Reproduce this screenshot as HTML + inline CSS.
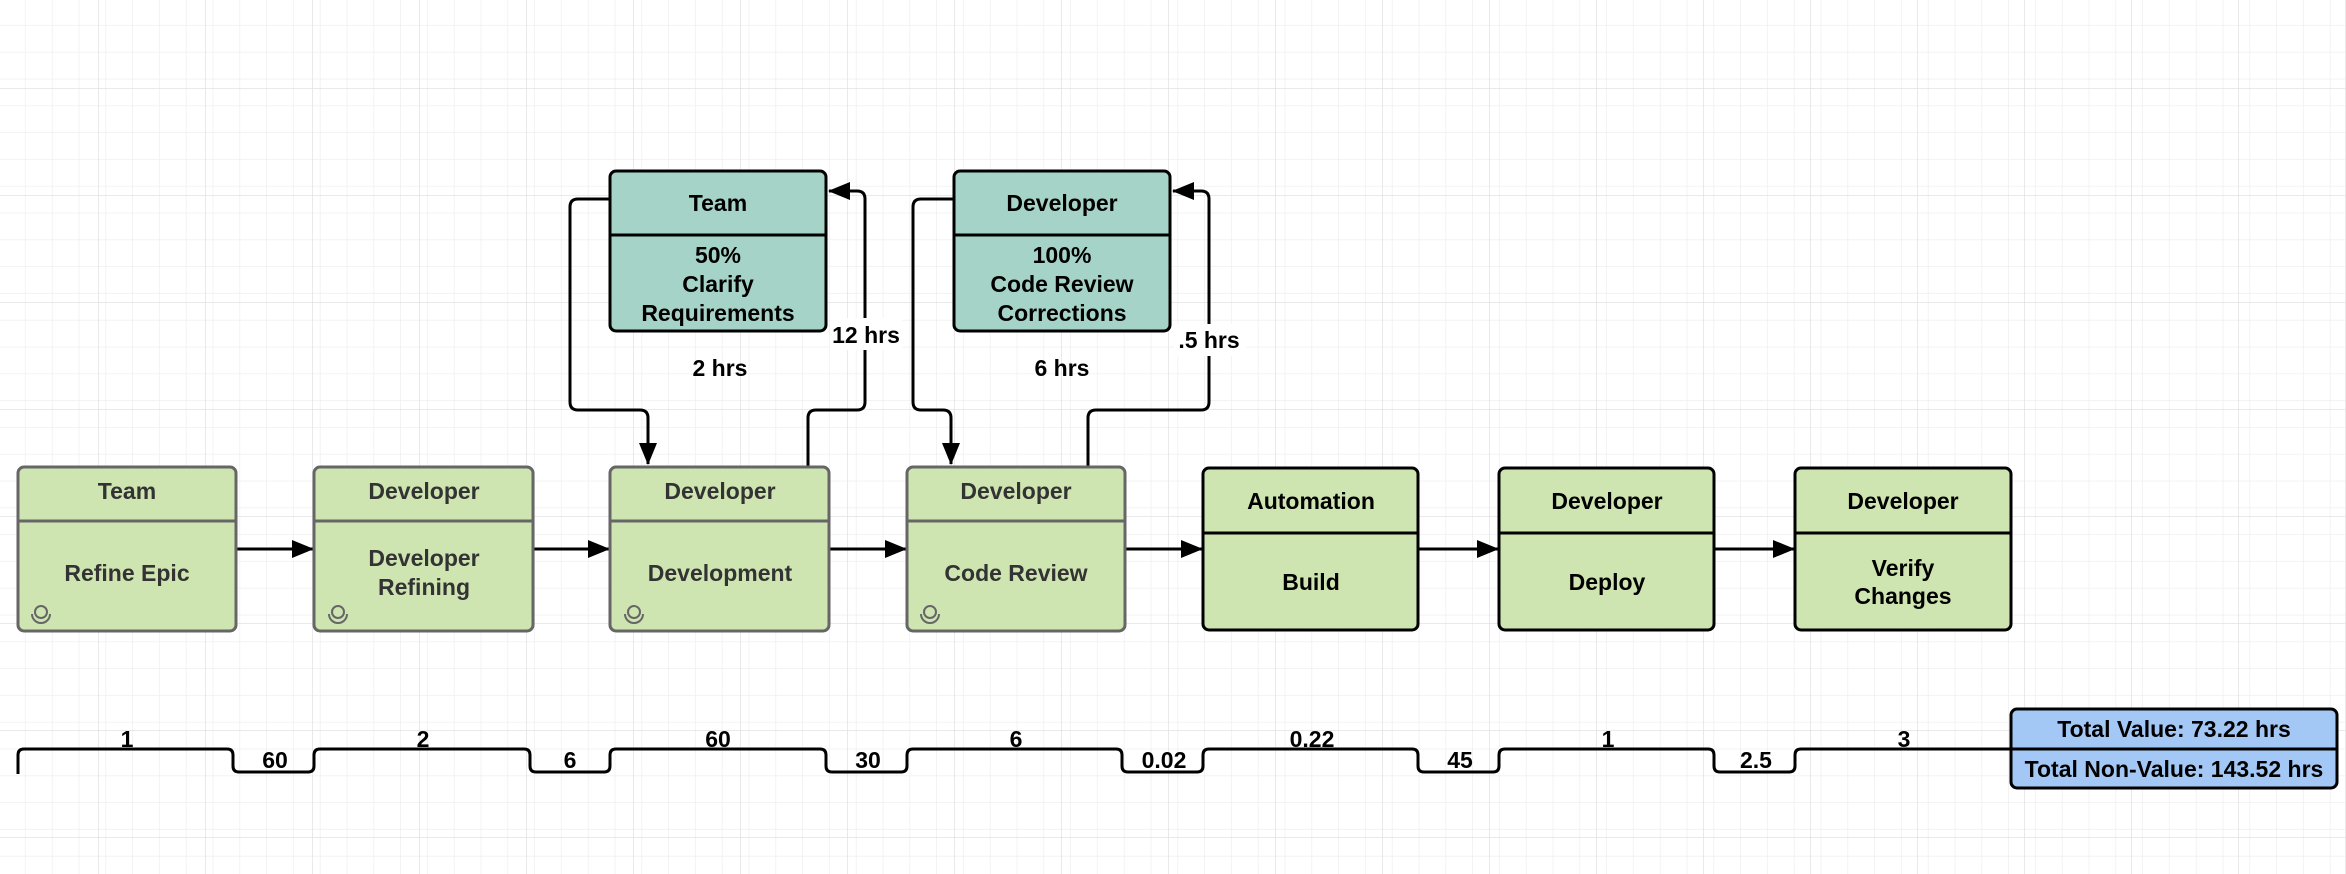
<!DOCTYPE html>
<html><head><meta charset="utf-8"><style>
html,body{margin:0;padding:0;background:#fff}
svg{display:block}
text{font-family:"Liberation Sans",sans-serif;font-weight:bold;text-anchor:middle}
</style></head><body>
<svg width="2346" height="874" viewBox="0 0 2346 874" xmlns="http://www.w3.org/2000/svg">
<defs>
<pattern id="g" width="26.8" height="26.8" patternUnits="userSpaceOnUse" x="-1" y="-1">
<path d="M26.8 0V26.8M0 26.8H26.8" stroke="#efefef" stroke-width="1.5" fill="none"/>
</pattern>
<pattern id="G" width="107" height="107" patternUnits="userSpaceOnUse" x="-8" y="-18">
<path d="M107 0V107M0 107H107" stroke="#e2e2e2" stroke-width="1.5" fill="none"/>
</pattern>
<marker id="a" markerWidth="22" markerHeight="18" refX="21" refY="9" orient="auto" markerUnits="userSpaceOnUse" viewBox="0 0 22 18">
<path d="M0,0 L22,9 L0,18z" fill="#000"/>
</marker>
<g id="ic"><path d="M-9,-2 a9,9 0 0 0 18,0" fill="none" stroke="#666" stroke-width="2"/><circle cx="0" cy="-4" r="6" fill="none" stroke="#666" stroke-width="2"/></g>
</defs>
<rect width="2346" height="874" fill="url(#g)"/>
<rect width="2346" height="874" fill="url(#G)"/>

<g fill="none" stroke="#000" stroke-width="3">
<path d="M610,199 H578 q-8,0 -8,8 V402 q0,8 8,8 H640 q8,0 8,8 V464" marker-end="url(#a)"/>
<path d="M808,467 V418 q0,-8 8,-8 H857 q8,0 8,-8 V199 q0,-8 -8,-8 H829" marker-end="url(#a)"/>
<path d="M954,199 H921 q-8,0 -8,8 V402 q0,8 8,8 H943 q8,0 8,8 V464" marker-end="url(#a)"/>
<path d="M1088,467 V418 q0,-8 8,-8 H1201 q8,0 8,-8 V199 q0,-8 -8,-8 H1173" marker-end="url(#a)"/>
</g>
<g stroke="#000" stroke-width="3" marker-end="url(#a)">
<line x1="237" y1="549" x2="313" y2="549"/>
<line x1="534" y1="549" x2="609" y2="549"/>
<line x1="830" y1="549" x2="906" y2="549"/>
<line x1="1126" y1="549" x2="1202" y2="549"/>
<line x1="1419" y1="549" x2="1498" y2="549"/>
<line x1="1715" y1="549" x2="1794" y2="549"/>
</g>

<g stroke="#000" stroke-width="3">
<rect x="610" y="171" width="216" height="160" rx="6" fill="#a5d3c8"/><line x1="610" y1="235" x2="826" y2="235"/>
<rect x="954" y="171" width="216" height="160" rx="6" fill="#a5d3c8"/><line x1="954" y1="235" x2="1170" y2="235"/>
</g>
<g font-size="23" fill="#000">
<text x="718" y="211">Team</text>
<text x="718" y="263">50%</text><text x="718" y="292">Clarify</text><text x="718" y="321">Requirements</text>
<text x="1062" y="211">Developer</text>
<text x="1062" y="263">100%</text><text x="1062" y="292">Code Review</text><text x="1062" y="321">Corrections</text>
<text x="720" y="376">2 hrs</text>
<text x="1062" y="376">6 hrs</text>
</g>
<rect x="830" y="318" width="72" height="32" fill="#fff"/>
<rect x="1174" y="324" width="72" height="32" fill="#fff"/>
<g font-size="23"><text x="866" y="343">12 hrs</text><text x="1209" y="348">.5 hrs</text></g>

<g stroke="#666" stroke-width="3" fill="#cfe5b1">
<rect x="18" y="467" width="218" height="164" rx="6"/><line x1="18" y1="521" x2="236" y2="521"/>
<rect x="314" y="467" width="219" height="164" rx="6"/><line x1="314" y1="521" x2="533" y2="521"/>
<rect x="610" y="467" width="219" height="164" rx="6"/><line x1="610" y1="521" x2="829" y2="521"/>
<rect x="907" y="467" width="218" height="164" rx="6"/><line x1="907" y1="521" x2="1125" y2="521"/>
</g>
<use href="#ic" x="41" y="616"/><use href="#ic" x="338" y="616"/><use href="#ic" x="634" y="616"/><use href="#ic" x="930" y="616"/>
<g font-size="23" fill="#333">
<text x="127" y="499">Team</text><text x="127" y="581">Refine Epic</text>
<text x="424" y="499">Developer</text><text x="424" y="566">Developer</text><text x="424" y="595">Refining</text>
<text x="720" y="499">Developer</text><text x="720" y="581">Development</text>
<text x="1016" y="499">Developer</text><text x="1016" y="581">Code Review</text>
</g>
<g stroke="#000" stroke-width="3" fill="#cfe5b1">
<rect x="1203" y="468" width="215" height="162" rx="6"/><line x1="1203" y1="533" x2="1418" y2="533"/>
<rect x="1499" y="468" width="215" height="162" rx="6"/><line x1="1499" y1="533" x2="1714" y2="533"/>
<rect x="1795" y="468" width="216" height="162" rx="6"/><line x1="1795" y1="533" x2="2011" y2="533"/>
</g>
<g font-size="23" fill="#000">
<text x="1311" y="509">Automation</text><text x="1311" y="590">Build</text>
<text x="1607" y="509">Developer</text><text x="1607" y="590">Deploy</text>
<text x="1903" y="509">Developer</text><text x="1903" y="576">Verify</text><text x="1903" y="604">Changes</text>
</g>

<path fill="none" stroke="#000" stroke-width="3" d="M18,774 V755 q0,-6 6,-6 H227 q6,0 6,6 V766 q0,6 6,6 H308 q6,0 6,-6 V755 q0,-6 6,-6 H524 q6,0 6,6 V766 q0,6 6,6 H604 q6,0 6,-6 V755 q0,-6 6,-6 H820 q6,0 6,6 V766 q0,6 6,6 H901 q6,0 6,-6 V755 q0,-6 6,-6 H1116 q6,0 6,6 V766 q0,6 6,6 H1197 q6,0 6,-6 V755 q0,-6 6,-6 H1412 q6,0 6,6 V766 q0,6 6,6 H1493 q6,0 6,-6 V755 q0,-6 6,-6 H1708 q6,0 6,6 V766 q0,6 6,6 H1789 q6,0 6,-6 V755 q0,-6 6,-6 H2011"/>
<g font-size="23" fill="#000">
<text x="127" y="747">1</text><text x="423" y="747">2</text><text x="718" y="747">60</text><text x="1016" y="747">6</text>
<text x="1312" y="747">0.22</text><text x="1608" y="747">1</text><text x="1904" y="747">3</text>
<text x="275" y="768">60</text><text x="570" y="768">6</text><text x="868" y="768">30</text><text x="1164" y="768">0.02</text>
<text x="1460" y="768">45</text><text x="1756" y="768">2.5</text>
</g>
<rect x="2011" y="709" width="326" height="79" rx="6" fill="#a4c8f5" stroke="#000" stroke-width="3"/>
<line x1="2011" y1="749" x2="2337" y2="749" stroke="#000" stroke-width="3"/>
<g font-size="23" fill="#000"><text x="2174" y="737">Total Value: 73.22 hrs</text><text x="2174" y="777">Total Non-Value: 143.52 hrs</text></g>
</svg>
</body></html>
